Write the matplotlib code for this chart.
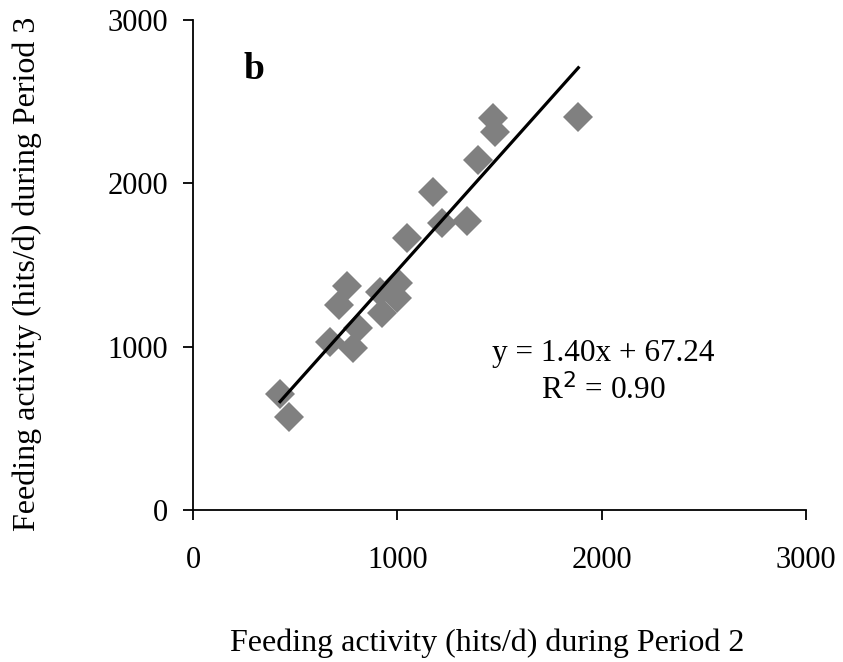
import matplotlib
matplotlib.use("Agg")
import matplotlib.pyplot as plt
import numpy as np

# Feeding activity (hits/d), period 2 vs period 3
period2 = [426, 470, 670, 713, 752, 785, 809, 915, 927, 997, 1005,
           1046, 1173, 1217, 1340, 1397, 1470, 1478, 1886]
period3 = [710, 571, 1031, 1255, 1372, 990, 1113, 1337, 1204, 1296, 1388,
           1664, 1944, 1760, 1772, 2143, 2398, 2317, 2409]
slope = 1.40
intercept = 67.24
ticks = [0, 1000, 2000, 3000]

plt.rcParams["font.family"] = ["Liberation Serif", "DejaVu Serif"]

fig = plt.figure(figsize=(8.43, 6.62), dpi=100)
ax = fig.add_axes([0.229, 0.2296, 0.727, 0.7402])

ax.plot(period2, period3, linestyle="none", marker="D", markersize=15,
        color="#808080", markeredgewidth=0, zorder=2)

xfit = np.array([min(period2), max(period2)])
ax.plot(xfit, slope * xfit + intercept, color="black", lw=2.3, zorder=3)

ax.set_xlim(0, 3000)
ax.set_ylim(0, 3000)
ax.set_xticks(ticks)
ax.set_yticks(ticks)
ax.tick_params(axis="x", direction="out", length=7, width=1.3, pad=19,
               labelsize=22)
ax.tick_params(axis="y", direction="out", length=7, width=1.3, pad=11,
               labelsize=22)
for s in ["top", "right"]:
    ax.spines[s].set_visible(False)
for s in ["left", "bottom"]:
    ax.spines[s].set_linewidth(1.3)

ax.text(0.083, 0.898, "b", transform=ax.transAxes, fontsize=27,
        fontweight="bold", va="center", ha="left")
ax.text(0.670, 0.320, f"y = {slope:.2f}x + {intercept:.2f}",
        transform=ax.transAxes, fontsize=22.5, ha="center", va="center")
ax.text(0.670, 0.245, r"R$^2$ = 0.90", transform=ax.transAxes,
        fontsize=22.5, ha="center", va="center")

fig.text(0.578, 0.029, "Feeding activity (hits/d) during Period 2",
         fontsize=23, ha="center", va="center")
fig.text(0.032, 0.586, "Feeding activity (hits/d) during Period 3",
         fontsize=23, ha="center", va="center", rotation=90)

fig.savefig("out.png", dpi=100)
